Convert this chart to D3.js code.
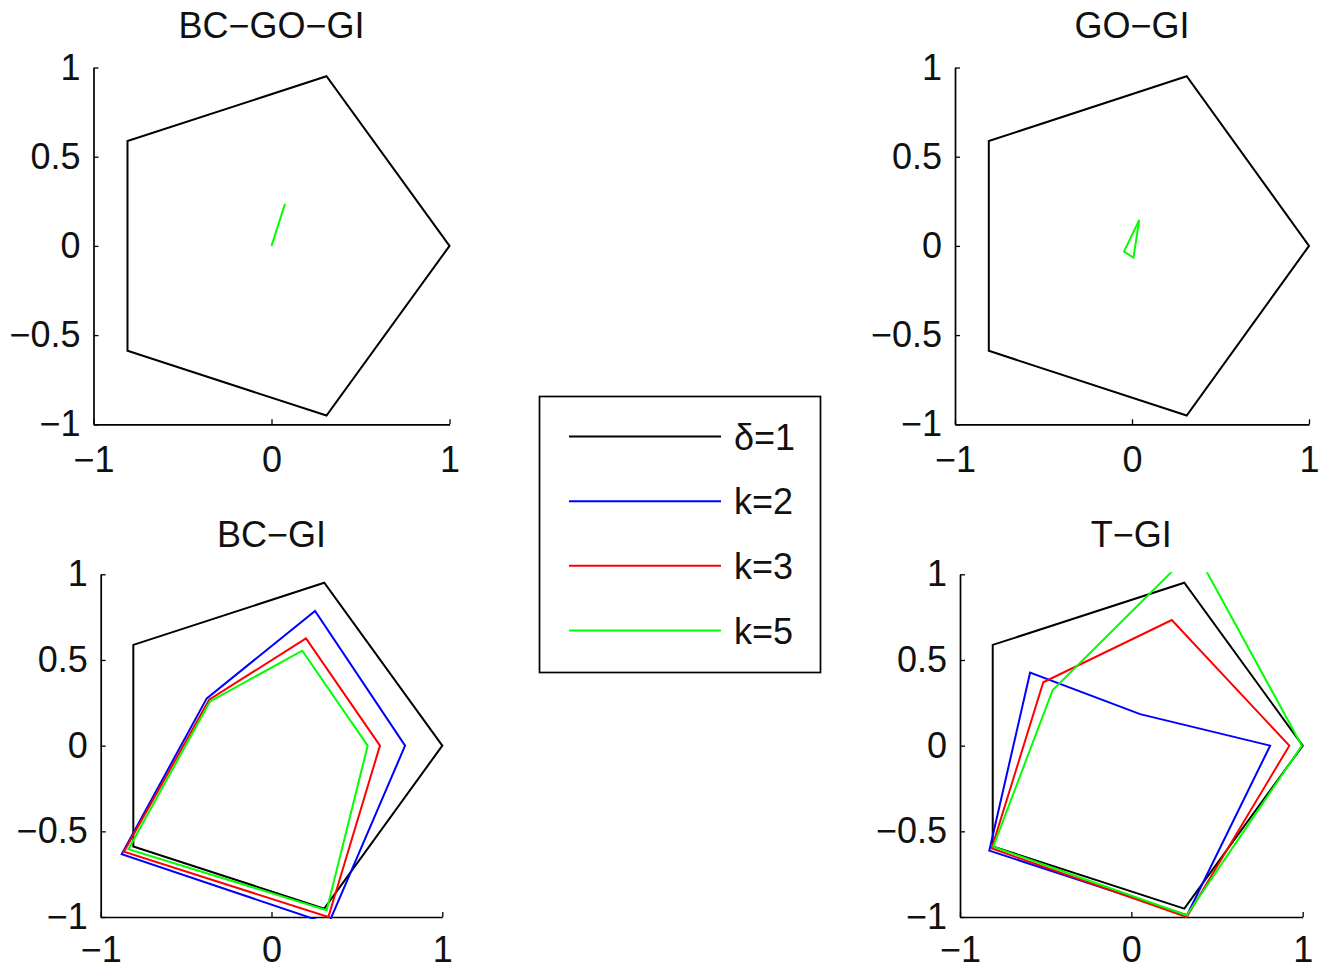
<!DOCTYPE html>
<html>
<head>
<meta charset="utf-8">
<script src="https://cdn.jsdelivr.net/npm/d3@7"></script>
<style>
  body { margin: 0; background: #fff; }
  svg text { font-family: "Liberation Sans", Arial, sans-serif; fill: #111; }
</style>
</head>
<body>
<div id="chart"></div>
<script>
// ---- data ----
const xTicks = [-1, 0, 1];
const yTicks = [-1, -0.5, 0, 0.5, 1];
const panelTitles = ["BC\u2212GO\u2212GI", "GO\u2212GI", "BC\u2212GI", "T\u2212GI"];
const legendLabels = ["\u03b4=1", "k=2", "k=3", "k=5"];

// delta = 1 (black pentagon), same in every panel
const pentagon = [[1, 0], [0.309, 0.951], [-0.809, 0.588], [-0.809, -0.588], [0.309, -0.951]];

// BC-GO-GI : collapses to a short segment
const bcgogiK5 = [[0, 0], [0.076, 0.236]];
// GO-GI : small triangle
const gogiK5 = [[0.041, 0.146], [-0.045, -0.032], [0.008, -0.066]];
// BC-GI
const bcgiK2 = [[0.782, 0], [0.255, 0.786], [-0.379, 0.276], [-0.877, -0.633], [0.334, -1.04]];
const bcgiK3 = [[0.635, 0], [0.202, 0.626], [-0.365, 0.268], [-0.864, -0.619], [0.333, -1.0]];
const bcgiK5 = [[0.563, 0], [0.18, 0.554], [-0.36, 0.258], [-0.838, -0.604], [0.323, -0.96]];
// T-GI
const tgiK2 = [[0.81, 0], [0.051, 0.184], [-0.591, 0.426], [-0.829, -0.613], [0.325, -0.99]];
const tgiK3 = [[0.922, 0], [0.236, 0.733], [-0.514, 0.37], [-0.815, -0.6], [0.323, -1.0]];
const tgiK5 = [[0.995, 0], [0.368, 1.146], [-0.459, 0.325], [-0.806, -0.59], [0.323, -0.99]];

const colours = ["#000000", "#0000ff", "#ff0000", "#00ff00"];

// series per panel : [colour index, points]
const panelSeries = [
  [[0, pentagon], [3, bcgogiK5]],
  [[0, pentagon], [3, gogiK5]],
  [[0, pentagon], [1, bcgiK2], [2, bcgiK3], [3, bcgiK5]],
  [[0, pentagon], [1, tgiK2], [2, tgiK3], [3, tgiK5]]
];

// ---- layout ----
const WD = 1322, HT = 971;
const FS = 36;
const boxes = [
  { x0: 93.5, x1: 449.5, y0: 67.5, y1: 424.3, ty: 37.5, pad: 22 },
  { x0: 955, x1: 1309, y0: 67.5, y1: 424.3, ty: 37.5, pad: 22 },
  { x0: 100.7, x1: 442.3, y0: 574.3, y1: 917, ty: 547, pad: 19 },
  { x0: 960, x1: 1302.7, y0: 574.3, y1: 917, ty: 547, pad: 19 }
];

const svg = d3.select("#chart").append("svg")
  .attr("width", WD).attr("height", HT);

const defs = svg.append("defs");

boxes.forEach(function(b, i) {
  const xs = d3.scaleLinear().domain([-1, 1]).range([b.x0, b.x1]);
  const ys = d3.scaleLinear().domain([-1, 1]).range([b.y1, b.y0]);

  defs.append("clipPath").attr("id", "clip" + i)
    .append("rect")
      .attr("x", b.x0 - 2).attr("y", b.y0 - 2)
      .attr("width", b.x1 - b.x0 + 4).attr("height", b.y1 - b.y0 + 4);

  const g = svg.append("g");

  // axes (ticks point inward, like matlab)
  const xAxis = g.append("g")
    .attr("transform", "translate(0," + b.y1 + ")")
    .call(d3.axisBottom(xs).tickValues(xTicks).tickFormat(d3.format(""))
      .tickSizeInner(-5).tickSizeOuter(0).tickPadding(b.pad));
  const yAxis = g.append("g")
    .attr("transform", "translate(" + b.x0 + ",0)")
    .call(d3.axisLeft(ys).tickValues(yTicks).tickFormat(d3.format(""))
      .tickSizeInner(-5).tickSizeOuter(0).tickPadding(13));

  [xAxis, yAxis].forEach(function(a) {
    a.select(".domain").attr("stroke", "#000").attr("stroke-width", 1.7);
    a.selectAll(".tick line").attr("stroke", "#000").attr("stroke-width", 1.3);
    a.selectAll(".tick text").attr("font-size", FS).attr("fill", "#111")
      .style("font-family", "'Liberation Sans', Arial, sans-serif");
  });

  // title
  g.append("text")
    .attr("x", (b.x0 + b.x1) / 2)
    .attr("y", b.ty)
    .attr("text-anchor", "middle")
    .attr("font-size", FS)
    .text(panelTitles[i]);

  // polygons
  const line = d3.line().x(d => xs(d[0])).y(d => ys(d[1])).curve(d3.curveLinearClosed);
  g.append("g").attr("clip-path", "url(#clip" + i + ")")
    .selectAll("path")
    .data(panelSeries[i])
    .enter()
    .append("path")
      .attr("d", d => line(d[1]))
      .attr("fill", "none")
      .attr("stroke", d => colours[d[0]])
      .attr("stroke-width", 2)
      .attr("stroke-linejoin", "miter");
});

// legend
const lg = svg.append("g");
lg.append("rect")
  .attr("x", 539.5).attr("y", 396.5)
  .attr("width", 281).attr("height", 276)
  .attr("fill", "#fff").attr("stroke", "#000").attr("stroke-width", 1.7);

const ly = d3.scalePoint().domain(legendLabels).range([436.5, 630.5]);

lg.selectAll("line.leg")
  .data(legendLabels)
  .enter()
  .append("line")
    .attr("class", "leg")
    .attr("x1", 569).attr("x2", 721)
    .attr("y1", d => ly(d)).attr("y2", d => ly(d))
    .attr("stroke", (d, i) => colours[i])
    .attr("stroke-width", 2);

lg.selectAll("text")
  .data(legendLabels)
  .enter()
  .append("text")
    .attr("x", 734)
    .attr("y", d => ly(d) + 13)
    .attr("font-size", FS)
    .text(d => d);
</script>
</body>
</html>
